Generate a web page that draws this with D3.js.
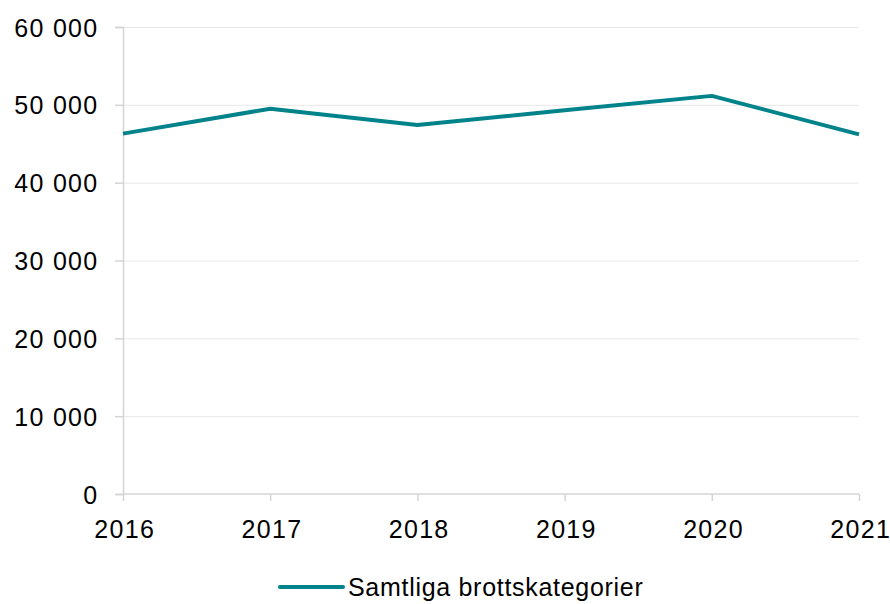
<!DOCTYPE html>
<html>

<head>
    <meta charset="utf-8">
    <title>Samtliga brottskategorier</title>
    <script src="https://d3js.org/d3.v7.min.js"></script>
    <style>
        body {
            margin: 0;
            background: #fff;
            font-family: "Liberation Sans", Arial, sans-serif;
        }

        .axis text,
        .legend text {
            font-size: 25px;
            letter-spacing: 1.3px;
            fill: #000;
            font-family: "Liberation Sans", Arial, sans-serif;
        }

        .legend text {
            letter-spacing: 0.7px;
        }

        .axis path,
        .axis line {
            fill: none;
            stroke: #d4d4d4;
            stroke-width: 1.5px;
        }

        .grid line {
            stroke: #e8e8e8;
            stroke-width: 1px;
        }

        .grid path {
            display: none;
        }
    </style>
</head>

<body>
    <svg width="890" height="604"></svg>

    <script>
        // Data
        const years = ["2016", "2017", "2018", "2019", "2020", "2021"];
        const values = [46300, 49500, 47400, 49300, 51150, 46200];
        const yTicks = [0, 10000, 20000, 30000, 40000, 50000, 60000];
        const seriesName = "Samtliga brottskategorier";

        const svg = d3.select("svg");
        const margin = { top: 27, right: 31, bottom: 110, left: 123 },
            width = +svg.attr("width") - margin.left - margin.right,
            height = +svg.attr("height") - margin.top - margin.bottom;

        const g = svg.append("g").attr("transform", "translate(" + margin.left + "," + margin.top + ")");

        const locale = d3.formatLocale({ decimal: ",", thousands: " ", grouping: [3], currency: ["", " kr"] });
        const fmt = locale.format(",d");

        const x = d3.scalePoint()
            .domain(years)
            .range([0, width]);

        const y = d3.scaleLinear()
            .domain([0, 60000])
            .range([height, 0]);

        // horizontal gridlines
        g.append("g")
            .attr("class", "grid")
            .call(d3.axisLeft(y).tickValues(yTicks.slice(1)).tickSize(-width).tickFormat(""));

        // y axis
        const yAxis = g.append("g")
            .attr("class", "axis y-axis")
            .call(d3.axisLeft(y).tickValues(yTicks).tickSize(8).tickPadding(16.5).tickFormat(fmt));
        yAxis.selectAll("text").attr("dy", "0.36em");

        // x axis
        const xAxis = g.append("g")
            .attr("class", "axis x-axis")
            .attr("transform", "translate(0," + height + ")")
            .call(d3.axisBottom(x).tickSize(7).tickPadding(19).tickSizeOuter(0));
        xAxis.select(".domain").attr("d", "M0,0H" + width);
        xAxis.selectAll("text").attr("dx", "0.05em");

        const line = d3.line()
            .x((d, i) => x(years[i]))
            .y(d => y(d));

        g.append("path")
            .datum(values)
            .attr("fill", "none")
            .attr("stroke", "#00838a")
            .attr("stroke-width", 4)
            .attr("stroke-linejoin", "round")
            .attr("d", line);

        // legend
        const legend = svg.append("g").attr("class", "legend").attr("transform", "translate(280,587)");
        legend.append("line")
            .attr("x1", 0).attr("x2", 63)
            .attr("stroke", "#00838a")
            .attr("stroke-width", 4)
            .attr("stroke-linecap", "round");
        legend.append("text")
            .attr("x", 68)
            .attr("dy", "0.36em")
            .text(seriesName);
    </script>
</body>

</html>
